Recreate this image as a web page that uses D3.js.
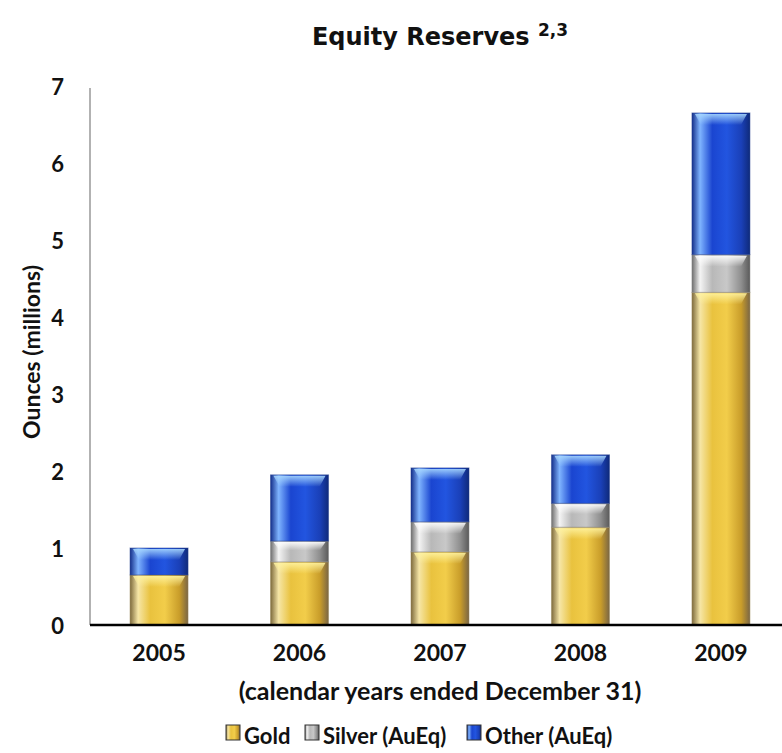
<!DOCTYPE html>
<html><head><meta charset="utf-8">
<script src="https://cdn.jsdelivr.net/npm/d3@7"></script>
<style>body{margin:0;background:#fff}svg{display:block}</style>
</head><body>
<script>
const years = ["2005","2006","2007","2008","2009"];
const gold = [0.65, 0.82, 0.95, 1.27, 4.32];
const silver = [0.00, 0.27, 0.39, 0.31, 0.49];
const other = [0.35, 0.86, 0.70, 0.63, 1.84];
const seriesNames = ["Gold","Silver (AuEq)","Other (AuEq)"];
const yTicks = [0,1,2,3,4,5,6,7];

const W = 782, H = 753;
const svg = d3.select("body").append("svg").attr("width", W).attr("height", H);
const defs = svg.append("defs");

const palettes = {
  gold:   {stops:["#7d6a3c","#f6e6a6","#e9c23e","#f2cd4a","#c99d2a","#7a6645"], top:"#fff3a0"},
  silver: {stops:["#6d6d6d","#f4f4f4","#b8b8b8","#c8c8c8","#8e8e8e","#5a5a5a"], top:"#ffffff"},
  other:  {stops:["#142f8a","#7fb4ff","#1a45d0","#2255e0","#1a40b8","#0f2a7a"], top:"#a8d8ff"}
};
const offs = [0,0.14,0.35,0.6,0.85,1];
Object.entries(palettes).forEach(([k,p])=>{
  const g = defs.append("linearGradient").attr("id","g-"+k).attr("x1","0").attr("x2","1").attr("y1","0").attr("y2","0");
  p.stops.forEach((c,i)=>g.append("stop").attr("offset",offs[i]).attr("stop-color",c));
  const t = defs.append("linearGradient").attr("id","t-"+k).attr("x1","0").attr("x2","0").attr("y1","0").attr("y2","1");
  t.append("stop").attr("offset",0).attr("stop-color",p.top).attr("stop-opacity",0.9);
  t.append("stop").attr("offset",1).attr("stop-color",p.top).attr("stop-opacity",0);
});

const x = d3.scaleBand().domain(years).range([90, 790]).paddingInner(0.587).paddingOuter(0.285);
const y = d3.scaleLinear().domain([0,7]).range([625, 86]);

const fontMain = "Lato, 'Open Sans', sans-serif";

// title
const title = svg.append("text").attr("x", 440).attr("y", 45).attr("text-anchor","middle")
  .attr("font-family","'DejaVu Sans', Verdana, sans-serif").attr("font-weight","bold").attr("font-size",24).attr("fill","#111");
title.append("tspan").text("Equity Reserves ");
title.append("tspan").attr("font-size",17).attr("dy",-9).text("2,3");

// y axis line
svg.append("line").attr("x1",90).attr("x2",90).attr("y1",y(7)+2).attr("y2",y(0)).attr("stroke","#999").attr("stroke-width",1.5);

// y tick labels
const yAxis = d3.axisLeft(y).tickValues(yTicks).tickSize(0).tickPadding(26).tickFormat(d3.format("d"));
const gy = svg.append("g").attr("transform","translate(90,0)").call(yAxis);
gy.select(".domain").remove();
gy.selectAll("text").attr("font-family",fontMain).attr("font-weight","bold").attr("font-size",22).attr("fill","#111").attr("dy","0.4em");

// y title
svg.append("text").attr("transform","translate(40,352) rotate(-90)").attr("text-anchor","middle")
  .attr("font-family",fontMain).attr("font-weight","bold").attr("font-size",23).attr("fill","#111").text("Ounces (millions)");

// stacked data
const rows = years.map((yr,i)=>({year:yr, gold:gold[i], silver:silver[i], other:other[i]}));
const stack = d3.stack().keys(["gold","silver","other"])(rows);

const bw = x.bandwidth();
stack.forEach(layer=>{
  const key = layer.key;
  const g = svg.append("g");
  layer.forEach(d=>{
    const h = y(d[0]) - y(d[1]);
    if (h <= 0.5) return;
    const x0 = x(d.data.year), y0 = y(d[1]);
    g.append("rect").attr("x",x0).attr("y",y0).attr("width",bw).attr("height",h).attr("fill","url(#g-"+key+")");
    const th = Math.min(12, h*0.45);
    g.append("path").attr("d",`M${x0+3},${y0+1} L${x0+bw-3},${y0+1} L${x0+bw-9},${y0+th} L${x0+9},${y0+th} Z`)
      .attr("fill","url(#t-"+key+")");
    g.append("rect").attr("x",x0).attr("y",y0).attr("width",bw).attr("height",h)
      .attr("fill","none").attr("stroke", key==="gold"?"#9c8a5a":key==="silver"?"#888":"#23408f").attr("stroke-opacity",0.5).attr("stroke-width",1);
  });
});

// x axis
svg.append("line").attr("x1",90).attr("x2",782).attr("y1",y(0)).attr("y2",y(0)).attr("stroke","#000").attr("stroke-width",2.5);
const xAxis = d3.axisBottom(x).tickSize(0).tickPadding(20);
const gx = svg.append("g").attr("transform",`translate(0,${y(0)})`).call(xAxis);
gx.select(".domain").remove();
gx.selectAll("text").attr("font-family",fontMain).attr("font-weight","bold").attr("font-size",23).attr("fill","#111");

// x title
svg.append("text").attr("x",440).attr("y",700).attr("text-anchor","middle")
  .attr("font-family",fontMain).attr("font-weight","bold").attr("font-size",25).attr("fill","#111")
  .text("(calendar years ended December 31)");

// legend
const legendKeys = ["gold","silver","other"];
const legX = [226, 305, 467];
const leg = svg.append("g");
legendKeys.forEach((k,i)=>{
  leg.append("rect").attr("x",legX[i]).attr("y",725).attr("width",14).attr("height",15)
    .attr("fill","url(#g-"+k+")").attr("stroke","#333").attr("stroke-width",1);
  leg.append("text").attr("x",legX[i]+18).attr("y",744)
    .attr("font-family",fontMain).attr("font-weight","bold").attr("font-size",22).attr("fill","#111").text(seriesNames[i]);
});
</script>
</body></html>
